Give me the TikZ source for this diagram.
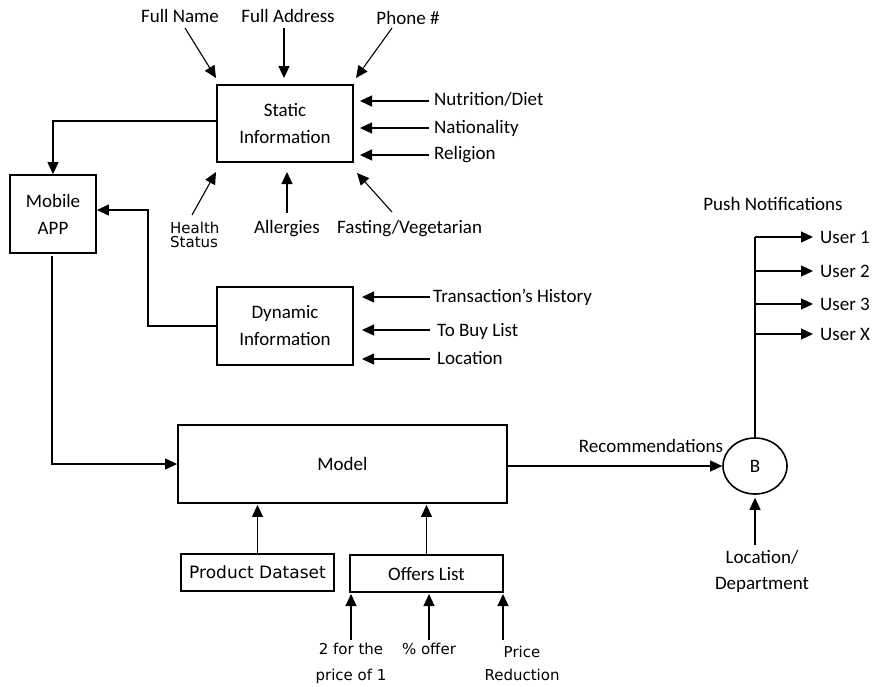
\documentclass[tikz,border=0pt]{standalone}
\usepackage{fontspec}
\setmainfont{Carlito}
\newfontfamily\dvs{DejaVu Sans}
\usetikzlibrary{arrows.meta,shapes.geometric}
\begin{document}
\begin{tikzpicture}[x=1pt,y=-1pt,
  arr/.style={-{Triangle[length=12pt,width=11pt]},line width=1.1pt},
  ln/.style={line width=1.1pt},
  box/.style={draw,line width=1.8pt,align=center,inner sep=0pt,font=\fontsize{19}{27}\selectfont},
  lbl/.style={font=\fontsize{19}{27}\selectfont,inner sep=0pt},
  dlbl/.style={font=\dvs\fontsize{15}{17}\selectfont,inner sep=0pt}]
\useasboundingbox (0,0) rectangle (872,686);

% boxes
\node[box,minimum width=136pt,minimum height=77pt] (static) at (285,123.5) {Static\\Information};
\node[box,minimum width=86pt,minimum height=78pt] (mobile) at (53,214) {Mobile\\APP};
\node[box,minimum width=136pt,minimum height=78pt] (dynamic) at (285,326) {Dynamic\\Information};
\node[box,minimum width=329pt,minimum height=78pt] (model) at (342.5,464) {Model};
\node[box,line width=1.2pt,minimum width=153pt,minimum height=37pt,font=\dvs\fontsize{17}{20}\selectfont] (product) at (257.5,572.5) {Product Dataset};
\node[box,line width=1.2pt,minimum width=153pt,minimum height=37pt] (offers) at (426.5,573.5) {Offers List};
\node[draw,ellipse,line width=1.6pt,minimum width=64pt,minimum height=56pt,inner sep=0pt,font=\fontsize{19}{20}\selectfont] (b) at (755,466) {B};

% static inputs (top)
\node[lbl,anchor=base] (fn) at (180,22) {Full Name};
\node[lbl,anchor=base] (fa) at (288,22) {Full Address};
\node[lbl,anchor=base] (ph) at (408,24) {Phone \#};
\coordinate (fnT) at (185,28);  \coordinate (fnH) at (216,78);
\coordinate (faT) at (284,28);  \coordinate (faH) at (284,78);
\coordinate (phT) at (392,28);  \coordinate (phH) at (356,78);
\draw[arr] (fnT) -- (fnH);
\draw[arr] (faT) -- (faH);
\draw[arr] (phT) -- (phH);

% static inputs (right)
\node[lbl,anchor=base west] (nd) at (434,105) {Nutrition/Diet};
\node[lbl,anchor=base west] (na) at (434,133) {Nationality};
\node[lbl,anchor=base west] (re) at (434,159) {Religion};
\coordinate (ndT) at (429,101); \coordinate (ndH) at (360,101);
\coordinate (naT) at (429,128); \coordinate (naH) at (360,128);
\coordinate (reT) at (429,155); \coordinate (reH) at (360,155);
\draw[arr] (ndT) -- (ndH);
\draw[arr] (naT) -- (naH);
\draw[arr] (reT) -- (reH);

% static inputs (bottom)
\node[dlbl,anchor=base west] (he) at (170,233) {Health};
\node[dlbl,anchor=base west] (st) at (170,247) {Status};
\node[lbl,anchor=base] (al) at (287,233) {Allergies};
\node[lbl,anchor=base west] (fv) at (337,233) {Fasting/Vegetarian};
\coordinate (heT) at (192,215); \coordinate (heH) at (216,172);
\coordinate (alT) at (287,213); \coordinate (alH) at (287,172);
\coordinate (fvT) at (392,212); \coordinate (fvH) at (357,173);
\draw[arr] (heT) -- (heH);
\draw[arr] (alT) -- (alH);
\draw[arr] (fvT) -- (fvH);

% dynamic inputs
\node[lbl,anchor=base west] (th) at (433,302) {Transaction’s History};
\node[lbl,anchor=base west] (tb) at (437,336) {To Buy List};
\node[lbl,anchor=base west] (lo) at (437,364) {Location};
\coordinate (thT) at (430,297); \coordinate (thH) at (362,297);
\coordinate (tbT) at (430,330); \coordinate (tbH) at (362,330);
\coordinate (loT) at (430,359); \coordinate (loH) at (362,359);
\draw[arr] (thT) -- (thH);
\draw[arr] (tbT) -- (tbH);
\draw[arr] (loT) -- (loH);

% box connections
\draw[arr] (static.west |- 0,121) -| (mobile.north);
\coordinate (dk) at (148,326);
\draw[arr] (dynamic.west) -- (dk) |- (mobile.east |- 0,210);
\coordinate (ms) at (52,256);
\draw[arr] (ms) |- (model.west);
\draw[arr,shorten >=1pt] (product.north) -- (product.north |- model.south);
\draw[arr,shorten >=1pt] (offers.north) -- (offers.north |- model.south);

% offers inputs
\node[dlbl,anchor=base] (o1a) at (351,654) {2 for the};
\node[dlbl,anchor=base] (o1b) at (351,680) {price of 1};
\node[dlbl,anchor=base] (o2) at (429,654) {\% offer};
\node[dlbl,anchor=base] (o3a) at (522,657) {Price};
\node[dlbl,anchor=base] (o3b) at (522,680) {Reduction};
\coordinate (o1T) at (351,640); \coordinate (o1H) at (351,594);
\coordinate (o2T) at (429,640); \coordinate (o2H) at (429,594);
\coordinate (o3T) at (503,640); \coordinate (o3H) at (503,594);
\draw[arr] (o1T) -- (o1H);
\draw[arr] (o2T) -- (o2H);
\draw[arr] (o3T) -- (o3H);

% recommendations
\draw[arr] (model.east |- b.west) -- (b.west);
\node[lbl,anchor=base] (rec) at (651,452) {Recommendations};

% location / department
\node[lbl,anchor=base] (ld1) at (762,563) {Location/};
\node[lbl,anchor=base] (ld2) at (762,589) {Department};
\coordinate (ldT) at (755,545);
\draw[arr,shorten >=3pt] (ldT) -- (b.south);

% push notifications
\node[lbl,anchor=base] (pn) at (773,210) {Push Notifications};
\coordinate (p1) at (755,237);
\coordinate (p2) at (755,271);
\coordinate (p3) at (755,304);
\coordinate (p4) at (755,334);
\draw[ln] (b.north) -- (p1);
\node[lbl,anchor=base west] (u1) at (820,243) {User 1};
\node[lbl,anchor=base west] (u2) at (820,277) {User 2};
\node[lbl,anchor=base west] (u3) at (820,310) {User 3};
\node[lbl,anchor=base west] (u4) at (820,340) {User X};
\draw[arr] (p1) -- (p1 -| 813,0);
\draw[arr] (p2) -- (p2 -| 813,0);
\draw[arr] (p3) -- (p3 -| 813,0);
\draw[arr] (p4) -- (p4 -| 813,0);
\end{tikzpicture}
\end{document}
